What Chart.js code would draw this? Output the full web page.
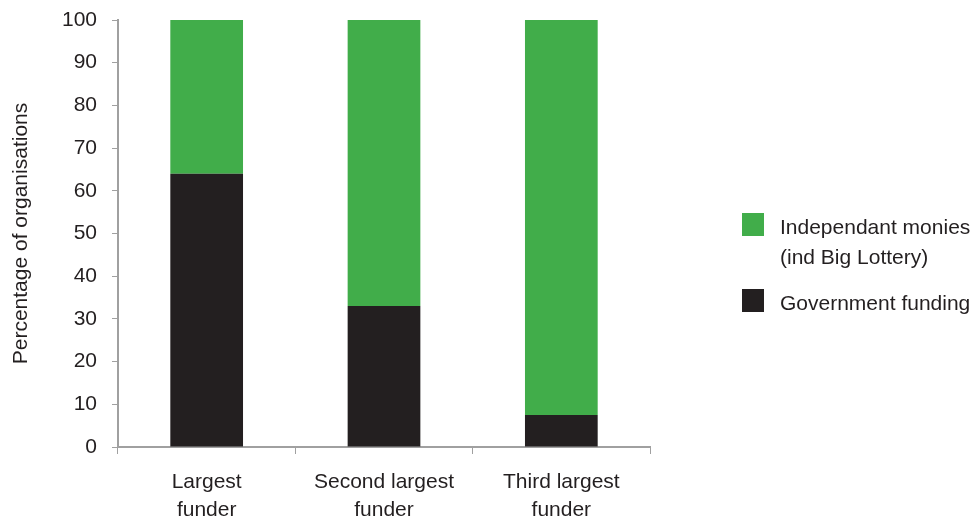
<!DOCTYPE html>
<html>
<head>
<meta charset="utf-8">
<script src="https://cdn.jsdelivr.net/npm/chart.js@4/dist/chart.umd.min.js"></script>
<style>
  body { margin: 0; background: #fff; }
  #wrap { position: relative; width: 976px; height: 517px; }
  #legend {
    position: absolute; left: 742px; top: 213px;
    font-family: "Liberation Sans", Arial, sans-serif; font-size: 21px; color: #231f20;
  }
  .item { display: flex; align-items: flex-start; margin-bottom: 17px; }
  .box { width: 22px; height: 23px; margin-right: 16px; flex: none; }
  .txt { line-height: 30px; margin-top: -1px; }
</style>
</head>
<body>
<div id="wrap">
  <canvas id="chart"></canvas>
  <div id="legend"></div>
</div>
<script>
// --- Data ---
const categories = [["Largest", "funder"], ["Second largest", "funder"], ["Third largest", "funder"]];
const governmentFunding = [64, 33, 7.5];
const independentMonies = [36, 67, 92.5];
const yTicks = [0, 10, 20, 30, 40, 50, 60, 70, 80, 90, 100];

const legendItems = [
  { lines: ["Independant monies", "(ind Big Lottery)"], color: "#41ad4a" },
  { lines: ["Government funding"], color: "#231f20" },
];

const FONT = "'Liberation Sans', Arial, sans-serif";
const TEXT = "#231f20";
const AXIS = "#a0a0a0";

const ctx = document.getElementById("chart").getContext("2d");

new Chart(ctx, {
  type: "bar",
  data: {
    labels: categories,
    datasets: [
      {
        label: "Government funding",
        data: governmentFunding,
        backgroundColor: legendItems[1].color,
        categoryPercentage: 1,
        barPercentage: 0.41,
      },
      {
        label: "Independant monies (ind Big Lottery)",
        data: independentMonies,
        backgroundColor: legendItems[0].color,
        categoryPercentage: 1,
        barPercentage: 0.41,
      },
    ],
  },
  options: {
    responsive: true,
    maintainAspectRatio: false,
    animation: false,
    layout: { padding: { top: 20, right: 326, left: 0, bottom: 0 } },
    plugins: {
      legend: { display: false },
      tooltip: { enabled: false },
    },
    scales: {
      x: {
        stacked: true,
        afterFit: (s) => { s.height = 70; },
        grid: {
          offset: true,
          drawOnChartArea: false,
          tickLength: 7,
          color: AXIS,
          tickColor: AXIS,
        },
        border: { color: AXIS, width: 2 },
        ticks: {
          color: TEXT,
          padding: 14,
          font: { family: FONT, size: 21, lineHeight: 1.33 },
          maxRotation: 0,
        },
      },
      y: {
        stacked: true,
        min: 0,
        max: 100,
        afterFit: (s) => {
          s.width = 118;
          s.paddingTop = 0;
          s.paddingBottom = 0;
        },
        afterBuildTicks: (s) => { s.ticks = yTicks.map((v) => ({ value: v })); },
        grid: {
          drawOnChartArea: false,
          tickLength: 6,
          color: AXIS,
          tickColor: AXIS,
        },
        border: { color: AXIS, width: 2 },
        ticks: {
          color: TEXT,
          padding: 15,
          font: { family: FONT, size: 21 },
        },
        title: {
          display: true,
          text: "Percentage of organisations",
          color: TEXT,
          padding: { top: 9, bottom: 0 },
          font: { family: FONT, size: 21 },
        },
      },
    },
  },
});

// legend built from the same colours/labels
const legendEl = document.getElementById("legend");
for (const item of legendItems) {
  const row = document.createElement("div");
  row.className = "item";
  const box = document.createElement("div");
  box.className = "box";
  box.style.background = item.color;
  const txt = document.createElement("div");
  txt.className = "txt";
  txt.innerHTML = item.lines.join("<br>");
  row.appendChild(box);
  row.appendChild(txt);
  legendEl.appendChild(row);
}
</script>
</body>
</html>
